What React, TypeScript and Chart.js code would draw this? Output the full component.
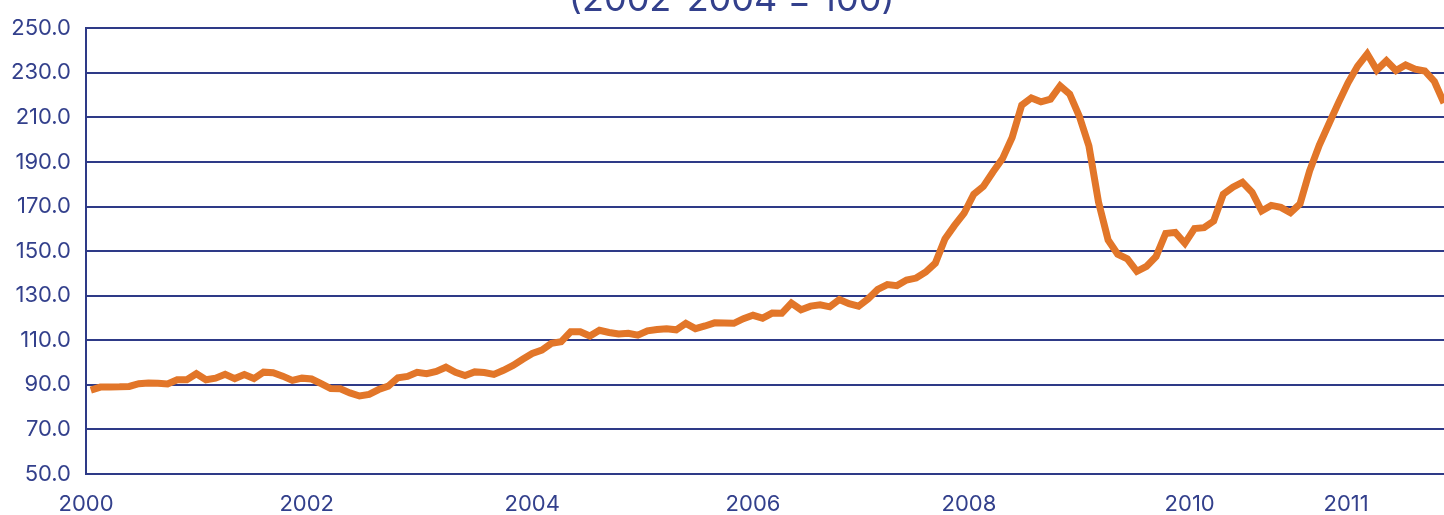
import React, { useEffect, useRef } from 'react';
import { Chart, registerables } from 'chart.js';

Chart.register(...registerables);

const titleText = '(2002-2004 = 100)';
const xTickLabels = ['2000', '2002', '2004', '2006', '2008', '2010', '2011'];
const xTickMonths = [0, 23, 46.5, 69.5, 92, 115, 131.3];
const yTickValues = [50, 70, 90, 110, 130, 150, 170, 190, 210, 230, 250];

// Monthly food price index values, Jan 2000 onward
const foodPriceIndex = [
  87.6, 89.0, 89.0, 89.1, 89.3, 90.5, 90.8, 90.7, 90.4, 92.3,
  92.3, 95.0, 92.3, 93.0, 94.7, 92.8, 94.6, 92.8, 95.7, 95.4,
  93.9, 92.0, 93.0, 92.6, 90.5, 88.3, 88.2, 86.4, 85.0, 85.7,
  87.9, 89.4, 93.2, 93.8, 95.6, 95.0, 96.0, 97.9, 95.6, 94.2,
  95.8, 95.5, 94.7, 96.5, 98.7, 101.5, 104.1, 105.6, 108.6, 109.3,
  113.8, 113.8, 111.9, 114.5, 113.5, 112.8, 113.1, 112.3, 114.2, 114.8,
  115.2, 114.7, 117.6, 115.2, 116.4, 117.8, 117.7, 117.6, 119.7, 121.2,
  119.9, 122.2, 122.1, 126.7, 123.7, 125.3, 125.9, 125.0, 128.3, 126.4,
  125.3, 128.6, 132.8, 135.0, 134.5, 137.0, 137.9, 140.6, 144.6, 155.5,
  161.5, 167.0, 175.5, 179.0, 185.5, 191.5, 201.0, 215.5, 218.7, 217.0,
  218.2, 224.1, 220.4, 210.5, 197.2, 172.0, 155.0, 148.6, 146.5, 140.9,
  143.1, 147.6, 157.9, 158.4, 153.5, 160.1, 160.5, 163.5, 175.5, 178.7,
  180.9, 176.4, 168.0, 170.5, 169.6, 167.2, 171.2, 186.0, 197.5, 207.0,
  216.5, 225.5, 233.0, 238.5, 231.2, 235.4, 231.0, 233.5, 231.6, 230.8,
  226.1, 216.4,
];

const NAVY = '#2E3A87';
const TEXT = '#33408C';
const ORANGE = '#E27629';
const FONT = 'Inter';

export default function App() {
  const ref = useRef<HTMLCanvasElement>(null);

  useEffect(() => {
    if (!ref.current) return;
    const points = foodPriceIndex.map((v, i) => ({ x: i + 0.5, y: v }));

    const titlePlugin = {
      id: 'cutTitle',
      afterDraw(chart: any) {
        const ctx = chart.ctx;
        ctx.save();
        ctx.font = `36px ${FONT}`;
        ctx.fillStyle = TEXT;
        ctx.textAlign = 'center';
        ctx.textBaseline = 'alphabetic';
        ctx.fillText(titleText, 731.7, 11);
        ctx.restore();
      },
    };

    const chart = new Chart(ref.current, {
      type: 'line',
      data: {
        datasets: [
          {
            data: points,
            borderColor: ORANGE,
            backgroundColor: ORANGE,
            borderWidth: 7,
            pointRadius: 0,
            tension: 0,
            fill: false,
            borderJoinStyle: 'miter',
          },
        ],
      },
      options: {
        animation: false,
        responsive: true,
        maintainAspectRatio: false,
        layout: { padding: { top: 24.5, right: 0, bottom: 0, left: 0 } },
        plugins: {
          legend: { display: false },
          tooltip: { enabled: false },
          title: { display: false },
        },
        scales: {
          x: {
            type: 'linear',
            min: 0,
            max: foodPriceIndex.length - 0.5,
            grid: { display: false, drawTicks: false },
            border: { display: false },
            afterBuildTicks: (s: any) => {
              s.ticks = xTickMonths.map((v) => ({ value: v }));
            },
            afterFit: (s: any) => {
              s.height = 41;
            },
            ticks: {
              autoSkip: false,
              maxRotation: 0,
              padding: 17,
              color: TEXT,
              font: { family: FONT, size: 22 },
              callback: (v: any) => {
                const k = xTickMonths.indexOf(Number(v));
                return k >= 0 ? xTickLabels[k] : '';
              },
            },
          },
          y: {
            min: 50,
            max: 250,
            afterBuildTicks: (s: any) => {
              s.ticks = yTickValues.map((v) => ({ value: v }));
            },
            afterFit: (s: any) => {
              s.width = 86;
            },
            grid: { color: NAVY, lineWidth: 2, drawTicks: false },
            border: { display: true, color: NAVY, width: 2 },
            ticks: {
              color: TEXT,
              padding: 15,
              font: { family: FONT, size: 22 },
              callback: (v: any) => Number(v).toFixed(1),
            },
          },
        },
      },
      plugins: [titlePlugin],
    } as any);

    return () => chart.destroy();
  }, []);

  return (
    <div style={{ position: 'fixed', left: 0, top: 0, width: 1444, height: 515, background: '#fff' }}>
      <canvas ref={ref} />
    </div>
  );
}
